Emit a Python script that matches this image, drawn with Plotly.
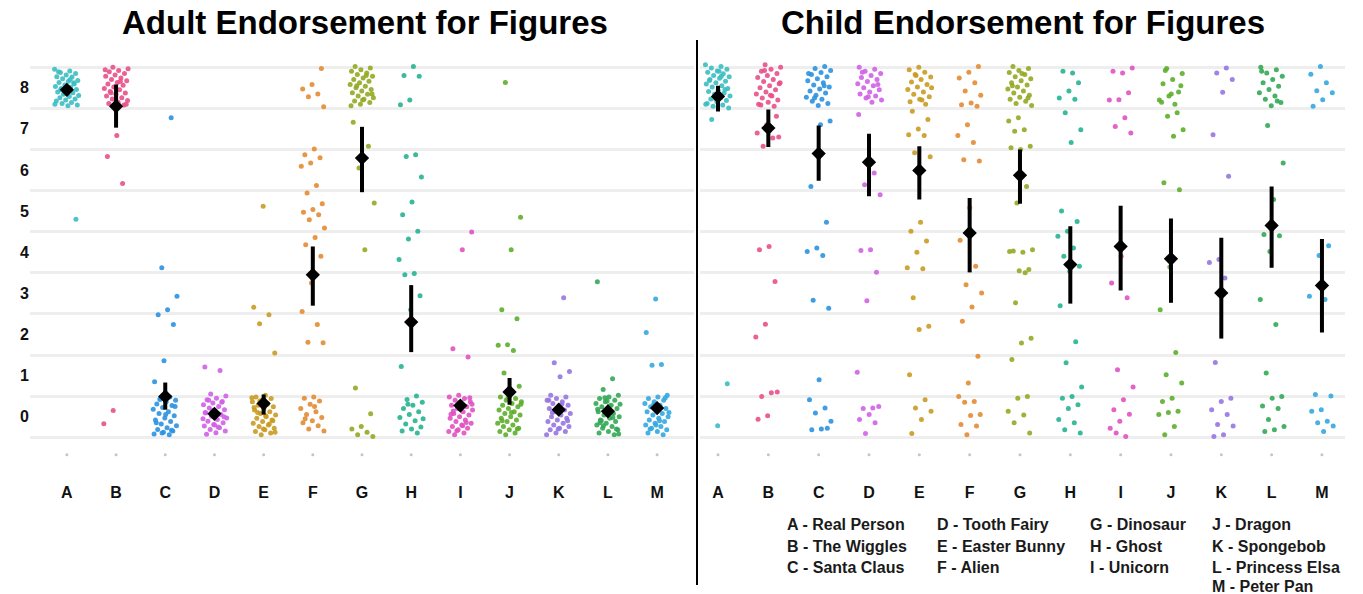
import plotly.graph_objects as go

categories = ["A", "B", "C", "D", "E", "F", "G", "H", "I", "J", "K", "L", "M"]
figure_names = ["Real Person", "The Wiggles", "Santa Claus", "Tooth Fairy", "Easter Bunny", "Alien",
                "Dinosaur", "Ghost", "Unicorn", "Dragon", "Spongebob", "Princess Elsa", "Peter Pan"]
colors = ["#3BBEC2", "#E8508A", "#2C92E0", "#D062E6", "#C99B22", "#E28B32", "#93A823",
          "#27B294", "#E052C2", "#5DAE2B", "#9676E0", "#33A955", "#34A9E0"]
y_ticks = [0, 1, 2, 3, 4, 5, 6, 7, 8]

# ---------------- Adult ratings (individual responses) ----------------
adult_A = [8.45, 8.41, 8.37, 8.35, 8.31, 8.27, 8.26, 8.22, 8.18, 8.16, 8.13, 8.09, 8.07, 8.03, 8.01,
           7.98, 7.96, 7.93, 7.9, 7.88, 7.84, 7.81, 7.79, 7.76, 7.73, 7.7, 7.68, 7.64, 7.62, 7.58,
           7.56, 8.39, 8.12, 7.86, 7.6, 8.2, 7.95, 4.8]
adult_B = [8.5, 8.46, 8.42, 8.39, 8.35, 8.31, 8.28, 8.24, 8.2, 8.17, 8.13, 8.09, 8.06, 8.02, 7.98,
           7.95, 7.91, 7.87, 7.84, 7.8, 7.76, 7.73, 7.69, 7.65, 7.62, 7.58, 7.55, 8.44, 8.15, 7.88,
           7.6, 6.84, 6.33, 5.67, 0.15, -0.17]
adult_C = [7.27, 3.62, 2.93, 2.6, 2.48, 2.24, 1.36, 0.85, 0.48, 0.45, 0.4, 0.36, 0.31, 0.27, 0.22,
           0.18, 0.12, 0.08, 0.02, -0.03, -0.08, -0.12, -0.18, -0.22, -0.27, -0.31, -0.35, -0.38,
           -0.42, -0.44, 0.42, 0.25, 0.05, -0.15, -0.33, -0.4]
adult_D = [1.21, 1.12, 0.55, 0.5, 0.45, 0.41, 0.37, 0.33, 0.29, 0.25, 0.21, 0.17, 0.13, 0.09, 0.05,
           0.01, -0.03, -0.07, -0.11, -0.15, -0.19, -0.23, -0.27, -0.31, -0.35, -0.39, -0.43, 0.35,
           0.15, -0.05, -0.25, 0.4, 0.0, -0.2, 0.1]
adult_E = [5.12, 2.66, 2.48, 2.26, 1.55, 0.52, 0.48, 0.44, 0.4, 0.36, 0.32, 0.28, 0.24, 0.2, 0.16,
           0.12, 0.08, 0.04, 0.0, -0.04, -0.08, -0.12, -0.16, -0.2, -0.24, -0.28, -0.32, -0.36,
           -0.4, -0.44, 0.46, 0.3, 0.1, -0.1, -0.3, 0.22, -0.18, 0.38, -0.38, 0.02]
adult_F = [8.47, 8.08, 7.97, 7.85, 7.78, 7.54, 6.51, 6.37, 6.3, 6.17, 6.09, 5.62, 5.44, 5.18, 5.04,
           4.97, 4.91, 4.79, 4.59, 4.36, 4.18, 3.9, 3.25, 2.56, 2.24, 1.81, 1.8, 0.48, 0.45, 0.38,
           0.3, 0.2, 0.12, 0.05, -0.02, -0.1, -0.15, -0.22, -0.3, -0.35, 0.25, -0.05]
adult_G = [8.52, 8.48, 8.44, 8.4, 8.36, 8.32, 8.28, 8.24, 8.2, 8.16, 8.12, 8.08, 8.04, 8.0, 7.96,
           7.92, 7.88, 7.84, 7.8, 7.76, 7.72, 7.68, 7.64, 7.6, 7.56, 8.3, 8.05, 7.85, 7.7, 7.16,
           6.58, 6.05, 5.2, 4.06, 0.7, 0.07, -0.24, -0.3, -0.38, -0.44, -0.48]
adult_H = [8.52, 8.3, 8.28, 7.7, 7.59, 6.37, 6.33, 5.83, 5.22, 4.91, 4.51, 4.32, 3.82, 3.48, 3.45,
           2.94, 2.6, 1.22, 0.5, 0.42, 0.35, 0.28, 0.2, 0.12, 0.05, -0.02, -0.1, -0.18, -0.25,
           -0.3, -0.35, -0.4, 0.3, -0.05]
adult_I = [4.49, 4.06, 1.65, 1.45, 0.52, 0.48, 0.44, 0.4, 0.36, 0.32, 0.28, 0.24, 0.2, 0.16, 0.12,
           0.08, 0.04, 0.0, -0.04, -0.08, -0.12, -0.16, -0.2, -0.24, -0.28, -0.32, -0.36, -0.4,
           -0.44, 0.46, 0.26, 0.06, -0.14, -0.34, 0.3, -0.22, 0.14]
adult_J = [8.13, 4.85, 4.06, 2.6, 2.38, 1.75, 1.74, 1.61, 1.06, 0.74, 0.52, 0.48, 0.44, 0.4, 0.36,
           0.32, 0.28, 0.24, 0.2, 0.16, 0.12, 0.08, 0.04, 0.0, -0.04, -0.08, -0.12, -0.16, -0.2,
           -0.24, -0.28, -0.32, -0.36, -0.4, -0.44, 0.3, 0.1, -0.1, -0.3, 0.45]
adult_K = [2.89, 1.31, 1.1, 0.97, 0.52, 0.48, 0.44, 0.4, 0.36, 0.32, 0.28, 0.24, 0.2, 0.16, 0.12,
           0.08, 0.04, 0.0, -0.04, -0.08, -0.12, -0.16, -0.2, -0.24, -0.28, -0.32, -0.36, -0.4,
           -0.44, 0.3, 0.1, -0.1, -0.3, 0.4]
adult_L = [3.28, 0.92, 0.66, 0.52, 0.48, 0.44, 0.4, 0.36, 0.32, 0.28, 0.24, 0.2, 0.16, 0.12, 0.08,
           0.04, 0.0, -0.04, -0.08, -0.12, -0.16, -0.2, -0.24, -0.28, -0.32, -0.36, -0.4, -0.44,
           0.46, 0.3, 0.1, -0.1, -0.3, 0.38, 0.18, -0.02, -0.22, -0.42, 0.26, -0.15]
adult_M = [2.86, 2.05, 1.27, 1.25, 0.52, 0.48, 0.44, 0.4, 0.36, 0.32, 0.28, 0.24, 0.2, 0.16, 0.12,
           0.08, 0.04, 0.0, -0.04, -0.08, -0.12, -0.16, -0.2, -0.24, -0.28, -0.32, -0.36, -0.4,
           -0.44, 0.3, 0.1, -0.1, -0.3, 0.46, -0.2]

adult_mean = [7.95, 7.55, 0.49, 0.07, 0.32, 3.45, 6.29, 2.30, 0.27, 0.60, 0.17, 0.13, 0.21]
adult_lo = [7.85, 7.03, 0.17, 0.0, 0.05, 2.70, 5.46, 1.57, 0.15, 0.29, 0.07, 0.04, 0.10]
adult_hi = [8.05, 8.08, 0.83, 0.14, 0.54, 4.14, 7.05, 3.20, 0.39, 0.94, 0.27, 0.22, 0.32]

# ---------------- Child ratings ----------------
child_A = [8.56, 8.52, 8.48, 8.45, 8.41, 8.38, 8.34, 8.3, 8.27, 8.23, 8.2, 8.16, 8.12, 8.09, 8.05,
           8.02, 7.98, 7.94, 7.91, 7.87, 7.84, 7.8, 7.76, 7.73, 7.69, 7.66, 7.62, 7.58, 7.55, 7.51,
           8.4, 8.18, 7.96, 7.74, 7.6, 8.28, 7.23, 0.8, -0.22]
child_B = [8.56, 8.5, 8.45, 8.4, 8.35, 8.3, 8.25, 8.2, 8.15, 8.1, 8.05, 8.0, 7.95, 7.9, 7.85, 7.8,
           7.75, 7.7, 7.65, 7.6, 7.55, 8.42, 8.12, 7.82, 7.58, 7.31, 7.1, 6.9, 6.78, 6.58, 6.8,
           4.14, 4.06, 3.29, 2.25, 1.94, 0.58, 0.49, 0.6, 0.02, -0.06]
child_C = [8.52, 8.47, 8.42, 8.37, 8.32, 8.27, 8.22, 8.17, 8.12, 8.07, 8.02, 7.97, 7.92, 7.87, 7.82,
           7.77, 7.72, 7.67, 7.62, 7.57, 8.35, 8.05, 7.75, 7.19, 7.1, 5.6, 4.73, 4.1, 4.02, 3.92,
           2.83, 2.64, 0.9, 0.41, 0.21, 0.09, -0.11, -0.3, -0.32, -0.28]
child_D = [8.5, 8.45, 8.4, 8.35, 8.3, 8.25, 8.2, 8.15, 8.1, 8.05, 8.0, 7.95, 7.9, 7.85, 7.8, 7.75,
           7.7, 7.65, 8.38, 8.08, 7.78, 7.35, 5.93, 5.64, 5.4, 4.06, 4.04, 3.51, 2.82, 1.08, 0.21,
           0.2, 0.25, 0.05, -0.07, -0.15, -0.41]
child_E = [8.5, 8.44, 8.38, 8.32, 8.26, 8.2, 8.14, 8.08, 8.02, 7.96, 7.9, 7.84, 7.78, 7.72, 7.66,
           7.6, 8.3, 8.0, 7.7, 7.43, 7.23, 7.0, 6.86, 6.84, 6.42, 6.32, 4.73, 4.51, 4.27, 4.0, 3.62,
           3.6, 2.89, 2.2, 2.12, 1.02, 0.41, 0.21, 0.13, -0.07, -0.41]
child_F = [8.52, 8.38, 8.24, 8.12, 7.92, 7.82, 7.63, 7.59, 7.55, 7.1, 6.84, 6.67, 6.25, 6.22, 5.08,
           4.29, 3.66, 3.21, 3.01, 2.67, 2.32, 1.47, 0.82, 0.49, 0.37, 0.35, 0.05, 0.03, -0.19,
           -0.23, -0.44]
child_G = [8.52, 8.47, 8.42, 8.37, 8.32, 8.27, 8.22, 8.17, 8.12, 8.07, 8.02, 7.97, 7.92, 7.87, 7.82,
           7.77, 7.72, 7.67, 7.62, 7.57, 8.35, 8.05, 7.75, 7.27, 7.19, 6.98, 6.94, 6.58, 6.5, 6.54,
           5.6, 5.2, 4.06, 4.0, 4.03, 3.58, 3.55, 4.02, 3.5, 2.77, 1.91, 1.79, 1.39, 0.49, 0.45,
           0.13, 0.04, -0.15, -0.4]
child_H = [8.36, 8.4, 8.12, 7.92, 7.75, 7.72, 7.39, 6.98, 6.67, 5.0, 4.75, 4.51, 4.39, 4.1, 3.9,
           3.66, 3.54, 2.7, 1.82, 1.31, 0.72, 0.49, 0.45, 0.29, 0.2, -0.07, -0.15, -0.32, -0.4]
child_I = [8.48, 8.36, 8.4, 7.88, 7.71, 7.7, 7.27, 7.06, 6.9, 3.9, 3.25, 2.89, 1.14, 0.72, 0.41,
           0.17, 0.06, -0.11, -0.28, -0.48, -0.4]
child_J = [8.47, 8.35, 8.2, 8.1, 7.9, 7.8, 7.7, 7.6, 8.42, 8.05, 7.85, 7.65, 7.39, 7.31, 6.98, 6.82,
           5.69, 5.52, 3.64, 2.6, 1.56, 1.02, 0.82, 0.45, 0.37, 0.13, 0.1, 0.05, -0.24, -0.44]
child_K = [8.48, 8.36, 8.2, 7.89, 6.86, 5.85, 3.82, 3.75, 3.37, 1.32, 0.45, 0.37, 0.17, 0.05,
           -0.19, -0.23, -0.44, -0.48]
child_L = [8.5, 8.44, 8.36, 8.28, 8.2, 8.12, 8.04, 7.96, 7.88, 7.8, 7.72, 7.64, 7.56, 8.4, 7.68,
           7.08, 6.17, 5.28, 4.43, 4.4, 4.02, 2.85, 2.24, 1.06, 0.49, 0.45, 0.26, 0.2, -0.07,
           -0.24, -0.32, -0.36]
child_M = [8.52, 8.33, 8.12, 7.93, 7.88, 7.71, 7.55, 4.16, 3.92, 2.93, 2.85, 0.54, 0.5, 0.17, 0.13,
           -0.11, -0.15, -0.23, -0.36]

child_mean = [7.79, 7.02, 6.40, 6.19, 5.99, 4.47, 5.87, 3.70, 4.14, 3.84, 3.01, 4.65, 3.19]
child_lo = [7.42, 6.56, 5.74, 5.36, 5.28, 3.51, 5.18, 2.75, 3.07, 2.77, 1.90, 3.62, 2.05]
child_hi = [8.05, 7.47, 7.08, 6.88, 6.58, 5.32, 6.50, 4.63, 5.13, 4.82, 4.35, 5.60, 4.32]

adult_points = [adult_A, adult_B, adult_C, adult_D, adult_E, adult_F, adult_G,
                adult_H, adult_I, adult_J, adult_K, adult_L, adult_M]
child_points = [child_A, child_B, child_C, child_D, child_E, child_F, child_G,
                child_H, child_I, child_J, child_K, child_L, child_M]

# ---------------- Layout constants ----------------
W, H = 1363, 594
ML, MR, MT, MB = 30, 18, 59, 128
PW = W - ML - MR
PH = H - MT - MB
FONT = "Liberation Sans, Arial, sans-serif"
JITTER = 0.25
BASE_Y = -0.925


def px_x(p):
    return (p - ML) / PW


def px_y(p):
    return (H - MB - p) / PH


fig = go.Figure()


def add_panel(points, means, lo, hi, xa, ya):
    for i, vals in enumerate(points):
        xs = [i + ((k * 0.6180339887 + i * 0.37) % 1 - 0.5) * 2 * JITTER for k in range(len(vals))]
        fig.add_trace(go.Scatter(
            x=xs, y=vals, mode="markers", xaxis=xa, yaxis=ya, showlegend=False,
            marker=dict(size=5, color=colors[i], opacity=0.9, line=dict(width=0)),
            hoverinfo="skip"))
    xpos = list(range(len(categories)))
    fig.add_trace(go.Scatter(
        x=xpos, y=[BASE_Y] * len(xpos), mode="markers", xaxis=xa, yaxis=ya, showlegend=False,
        marker=dict(size=3, color="#C4C4C4"), hoverinfo="skip"))
    fig.add_trace(go.Scatter(
        x=xpos, y=means, mode="markers", xaxis=xa, yaxis=ya, showlegend=False,
        marker=dict(symbol="diamond", size=11, color="black"),
        error_y=dict(type="data", symmetric=False,
                     array=[h - m for h, m in zip(hi, means)],
                     arrayminus=[m - l for m, l in zip(means, lo)],
                     color="black", thickness=4, width=0)))


add_panel(adult_points, adult_mean, adult_lo, adult_hi, "x", "y")
add_panel(child_points, child_mean, child_lo, child_hi, "x2", "y2")

half_grid = [v - 0.5 for v in y_ticks] + [8.5]
yrange = [-1.2, 8.7]

xaxis_common = dict(
    tickmode="array", tickvals=list(range(len(categories))), ticktext=categories,
    showgrid=False, zeroline=False, showline=False,
    ticks="outside", ticklen=12, tickcolor="rgba(0,0,0,0)",
    tickfont=dict(family=FONT, size=16, color="#111", weight="bold"))
yaxis_common = dict(
    range=yrange, tickmode="array", tickvals=y_ticks, showgrid=False, zeroline=False,
    showline=False,
    minor=dict(tickvals=half_grid, showgrid=True, gridcolor="#EEEEEE", gridwidth=3, ticks=""),
    tickfont=dict(family=FONT, size=16, color="#111", weight="bold"))

left_dom = [0, px_x(694)]
right_dom = [px_x(700.4), px_x(1344.6)]

fig.update_layout(
    width=W, height=H,
    margin=dict(l=ML, r=MR, t=MT, b=MB),
    paper_bgcolor="white", plot_bgcolor="white",
    xaxis=dict(domain=left_dom, range=[-0.75, 12.75], **xaxis_common),
    xaxis2=dict(domain=right_dom, range=[-0.35, 12.45], anchor="y2", **xaxis_common),
    yaxis=dict(domain=[0, 1], anchor="x", **yaxis_common),
    yaxis2=dict(domain=[0, 1], anchor="x2", showticklabels=False, **yaxis_common),
)

# divider line between panels
fig.add_shape(type="line", xref="paper", yref="paper",
              x0=px_x(697), x1=px_x(697), y0=px_y(585), y1=px_y(40),
              line=dict(color="black", width=2))

# panel titles
titles = [("Adult Endorsement for Figures", 365), ("Child Endorsement for Figures", 1023)]
for text, cx in titles:
    fig.add_annotation(text=text, xref="paper", yref="paper", x=px_x(cx), y=px_y(23),
                       showarrow=False, xanchor="center", yanchor="middle",
                       font=dict(family=FONT, size=33, color="black", weight="bold"))

# key for figure letters
col_x = [785, 935, 1088, 1210]
row_y = [524, 546, 567, 586]
col_rows = [3, 3, 3, 4]
idx = 0
for c, nrows in enumerate(col_rows):
    for r in range(nrows):
        fig.add_annotation(text=f"{categories[idx]} - {figure_names[idx]}", xref="paper", yref="paper",
                           x=px_x(col_x[c]), y=px_y(row_y[r]), showarrow=False,
                           xanchor="left", yanchor="middle",
                           font=dict(family=FONT, size=16, color="#1A1A1A", weight="bold"))
        idx += 1

fig.write_html("out.html")
